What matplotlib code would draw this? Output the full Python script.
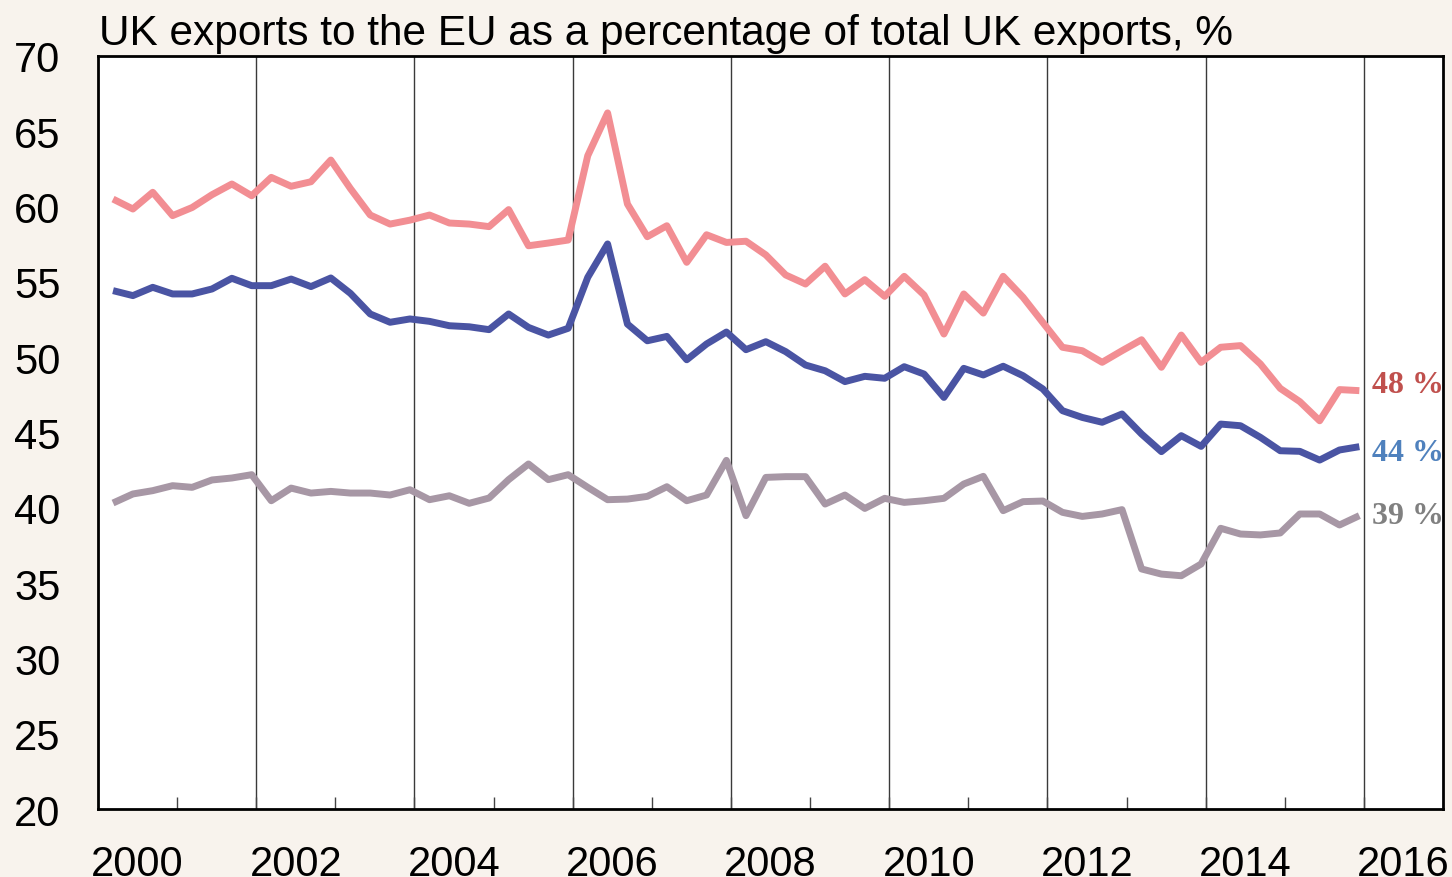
import numpy as np
import matplotlib
matplotlib.use("Agg")
import matplotlib.pyplot as plt

# quarterly data, 2000 Q1 .. 2015 Q4
years = np.arange(2000, 2016)
quarters = [y + 0.19 + 0.2509 * q for y in years for q in range(4)]

# three series (%)
pink_vals = [60.5, 59.84, 60.95, 59.4, 59.94, 60.79, 61.5, 60.72,
             61.94, 61.35, 61.65, 63.09, 61.2, 59.44, 58.84, 59.1,
             59.44, 58.91, 58.84, 58.67, 59.8, 57.4, 57.58, 57.78,
             63.38, 66.22, 60.17, 58.0, 58.73, 56.3, 58.13, 57.62,
             57.7, 56.79, 55.46, 54.86, 56.04, 54.2, 55.15, 54.04,
             55.37, 54.13, 51.54, 54.2, 52.93, 55.37, 53.98, 52.3,
             50.66, 50.43, 49.66, 50.43, 51.16, 49.33, 51.47, 49.66,
             50.66, 50.77, 49.55, 47.93, 47.05, 45.78, 47.85, 47.78]

blue_vals = [54.42, 54.09, 54.64, 54.2, 54.2, 54.53, 55.24, 54.75,
             54.75, 55.19, 54.69, 55.26, 54.24, 52.87, 52.32, 52.54,
             52.38, 52.09, 52.02, 51.83, 52.87, 51.98, 51.47, 51.92,
             55.3, 57.52, 52.2, 51.09, 51.38, 49.83, 50.88, 51.67,
             50.5, 51.03, 50.37, 49.48, 49.1, 48.38, 48.73, 48.6,
             49.37, 48.88, 47.33, 49.26, 48.82, 49.4, 48.77, 47.89,
             46.45, 46.0, 45.68, 46.23, 44.9, 43.73, 44.79, 44.08,
             45.56, 45.45, 44.68, 43.79, 43.75, 43.17, 43.84, 44.06]

gray_vals = [40.32, 40.92, 41.14, 41.47, 41.36, 41.85, 41.98, 42.2,
             40.47, 41.31, 40.98, 41.09, 40.98, 40.98, 40.85, 41.2,
             40.54, 40.8, 40.3, 40.65, 41.87, 42.91, 41.87, 42.2,
             41.36, 40.54, 40.58, 40.76, 41.4, 40.47, 40.85, 43.15,
             39.48, 42.02, 42.07, 42.07, 40.25, 40.85, 39.96, 40.63,
             40.36, 40.47, 40.63, 41.58, 42.09, 39.81, 40.41, 40.45,
             39.7, 39.43, 39.59, 39.88, 35.94, 35.6, 35.49, 36.27,
             38.64, 38.26, 38.2, 38.33, 39.59, 39.59, 38.86, 39.48]

# (values, line colour, end label colour, label nudge in points)
series = [(pink_vals, "#F28E93", "#C0504D", 4.5),
          (blue_vals, "#4A54A3", "#4F81BD", -4.5),
          (gray_vals, "#A797A5", "#808080", 0)]

bg = "#F8F3ED"
fig = plt.figure(figsize=(14.52, 8.78), dpi=100, facecolor=bg)
ax = fig.add_axes([0.0675, 0.0774, 0.9263, 0.8577])
ax.set_facecolor("white")

for vals, col, lab_col, nudge in series:
    ax.plot(quarters, vals, color=col, lw=5.0, solid_joinstyle="round",
            solid_capstyle="butt", zorder=3)
    ax.annotate("%d %%" % round(vals[-1]), xy=(2016.1, vals[-1]),
                xytext=(0, nudge), textcoords="offset points",
                color=lab_col, fontsize=23, fontweight="bold",
                family="Liberation Serif", va="center", ha="left", zorder=4)

# vertical separators every two years
for yr in range(2002, 2017, 2):
    ax.axvline(yr, color="#3a3a3a", lw=1.0, zorder=1)

ax.set_xlim(2000, 2017)
ax.set_ylim(20, 70)
ax.set_yticks(np.arange(20, 71, 5))

# year labels sit in the middle of the year
ax.set_xticks([y + 0.5 for y in range(2000, 2017, 2)])
ax.set_xticklabels([str(y) for y in range(2000, 2017, 2)])
ax.set_xticks(np.arange(2001, 2017), minor=True)

ax.tick_params(axis="x", which="major", length=0, pad=25, labelsize=30)
ax.tick_params(axis="x", which="minor", direction="in", length=9,
               width=1.0, color="#444444")
ax.tick_params(axis="y", length=0, pad=27, labelsize=30)
for lab in ax.get_xticklabels() + ax.get_yticklabels():
    lab.set_family("Liberation Sans")

for sp in ax.spines.values():
    sp.set_linewidth(2.0)
    sp.set_color("black")

fig.text(0.068, 0.949, "UK exports to the EU as a percentage of total UK exports, %",
         fontsize=30.5, family="Liberation Sans", ha="left", va="baseline")

fig.savefig("out.png", dpi=100, facecolor=bg)
